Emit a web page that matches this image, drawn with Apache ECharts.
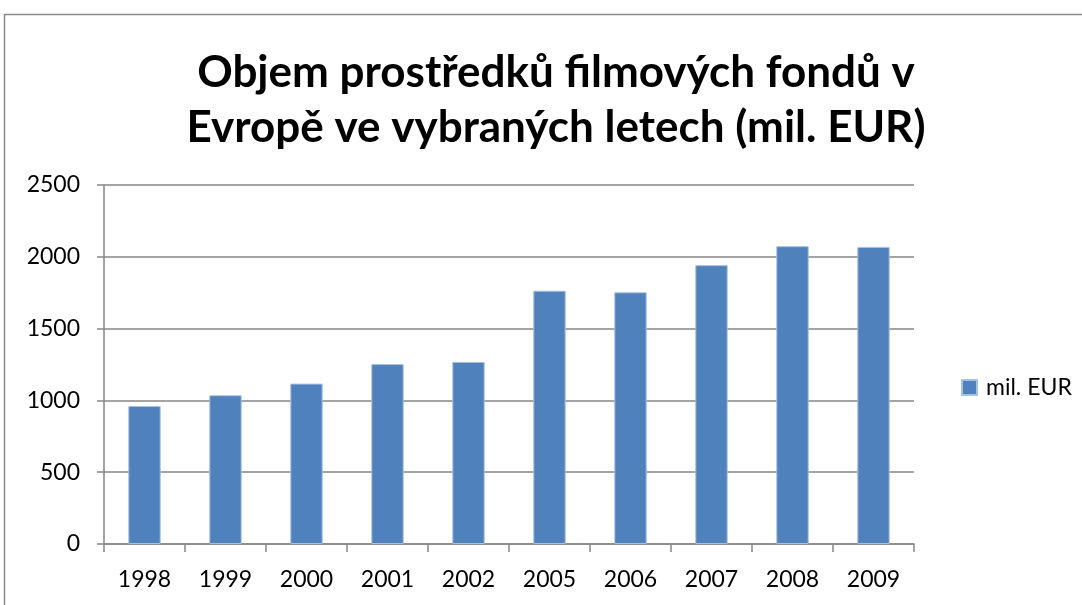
<!DOCTYPE html>
<html>
	<head>
		<meta charset="UTF-8">
		<title></title>
		<style>
			html, body { margin: 0; padding: 0; background: #fff; }
			#main { width: 1082px; height: 605px; }
		</style>
	</head>
	<script src="https://cdn.jsdelivr.net/npm/echarts@6/dist/echarts.min.js"></script>
	<body>
		<div id="main"></div>
	</body>
	<script>
		// data
		var years = ['1998', '1999', '2000', '2001', '2002', '2005', '2006', '2007', '2008', '2009']
		var values = [961, 1036, 1117, 1253, 1268, 1764, 1753, 1942, 2074, 2069]
		var seriesName = 'mil. EUR'
		var titleText = 'Objem prostředků filmových fondů v\nEvropě ve vybraných letech (mil. EUR)'

		var myChart = echarts.init(document.getElementById('main'))
		var font = 'Lato, "Open Sans", sans-serif'

		var option = {
			animation: false,
			backgroundColor: '#fff',
			graphic: [{
				type: 'rect',
				shape: { x: 4.5, y: 14.5, width: 1200, height: 700 },
				style: { fill: 'none', stroke: '#8a8a8a', lineWidth: 1.5 },
				silent: true
			}],
			title: {
				text: titleText,
				left: 551,
				textAlign: 'center',
				top: 40,
				textStyle: {
					fontFamily: font,
					fontWeight: 'bold',
					fontSize: 44,
					lineHeight: 55,
					color: '#000'
				}
			},
			legend: {
				data: [{ name: seriesName, icon: 'rect' }],
				left: 956,
				top: 371,
				itemWidth: 15,
				itemHeight: 15,
				textStyle: { fontFamily: font, fontSize: 23, color: '#000', padding: [0, 0, 0, 4] }
			},
			grid: { left: 104, right: 168, top: 185, bottom: 61, containLabel: false },
			xAxis: {
				type: 'category',
				data: years,
				axisLine: { lineStyle: { color: '#868686', width: 1.5 } },
				axisTick: { show: true, length: 8, lineStyle: { color: '#868686', width: 1.5 } },
				axisLabel: { fontFamily: font, fontSize: 23, color: '#000', margin: 24 }
			},
			yAxis: {
				type: 'value',
				min: 0,
				max: 2500,
				interval: 500,
				axisLine: { show: true, lineStyle: { color: '#868686', width: 1.5 } },
				axisTick: { show: true, length: 7, lineStyle: { color: '#868686', width: 1.5 } },
				splitLine: { lineStyle: { color: '#868686', width: 1.5 } },
				axisLabel: {
					fontFamily: font, fontSize: 23, color: '#000', margin: 24,
					formatter: function (v) { return String(v) }
				}
			},
			series: [{
				name: seriesName,
				type: 'bar',
				data: values,
				barWidth: '40%',
				itemStyle: { color: '#4f81bd', borderColor: '#a9c1e0', borderWidth: 1 }
			}]
		}

		myChart.setOption(option)
	</script>
</html>
